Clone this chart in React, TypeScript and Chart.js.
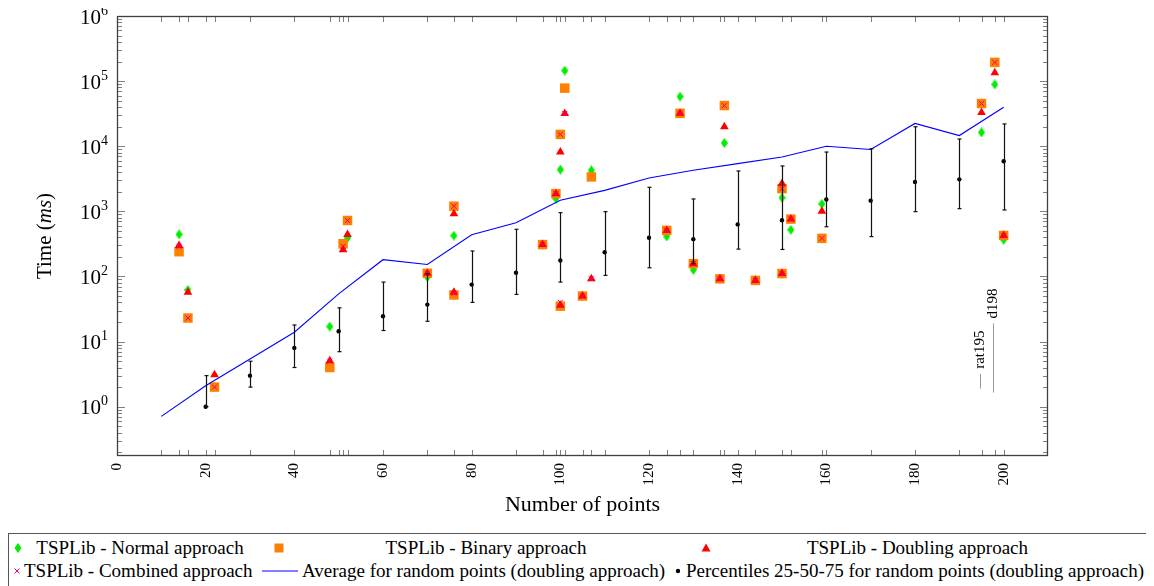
import React, { useEffect, useRef } from 'react';
import { Chart, registerables } from 'chart.js';
Chart.register(...registerables);

// ---- TSPLib instances (number of points) and times in ms ----
const tspSizes = [14, 16, 22, 48, 51, 52, 70, 76, 76, 96, 99, 100, 100, 101, 105, 107, 124, 127, 130, 136, 137, 144, 150, 150, 152, 159, 195, 198, 200];
const normalMs = [443, 62, 2, 17, 300, 390, 98, 423, 52, 309, 1570, 4380, 35, 145000, 50, 4270, 412, 57900, 126, 92, 11200, 87, 111, 1620, 520, 1300, 16300, 89000, 367];
const binaryMs = [240, 23, 2, 4, 318, 724, 112, 1200, 52, 309, 1870, 15200, 35, 78000, 50, 3380, 510, 32000, 157, 92, 42200, 87, 111, 2230, 760, 385, 45300, 194000, 427];
const doublingMs = [300, 57, 3.1, 5.1, 257, 443, 112, 920, 57, 309, 1870, 8150, 36, 31800, 50, 92, 510, 32000, 157, 92, 19900, 87, 111, 2680, 760, 1000, 33000, 134000, 427];
const combinedMs = [290, 23, 2, 5, 290, 724, 112, 1200, 55, 309, 1870, 15200, 40, 31800, 50, 92, 510, 32000, 157, 92, 42200, 87, 111, 2230, 760, 385, 45300, 194000, 427];

// ---- random points (doubling approach) ----
const randomSizes = [10, 20, 30, 40, 50, 60, 70, 80, 90, 100, 110, 120, 130, 140, 150, 160, 170, 180, 190, 200];
const averageMs = [0.71, 2.1, 5.4, 13.9, 54, 181, 153, 438, 670, 1480, 2100, 3250, 4270, 5400, 6840, 10000, 8900, 22400, 14600, 39800];
const p25Ms = [null, 1, 2, 4, 7, 14.8, 20.5, 40, 53, 82, 104, 136, 157, 263, 260, 580, 410, 990, 1100, 1050];
const p50Ms = [null, 1, 3, 8, 14.4, 24.5, 37, 75, 114, 176, 236, 394, 374, 630, 730, 1520, 1460, 2820, 3100, 5880];
const p75Ms = [null, 3, 5, 18, 33, 82, 110, 246, 530, 955, 990, 2340, 1550, 4170, 4980, 8150, 9150, 19900, 12900, 22000];

// ---- axes ----
const xTickLabels = [0, 20, 40, 60, 80, 100, 120, 140, 160, 180, 200];
const yDecades = [0, 1, 2, 3, 4, 5, 6];
const X_MIN = 0, X_MAX = 210, Y_MIN = 0.175, Y_MAX = 1e6;

// ---- annotations ----
const noteLabels = ['rat195', 'd198'];
const noteX = [195, 198];
const noteFrom = [1.9, 1.65];
const noteTo = [3.2, 19];

const SERIF = '"Liberation Serif", "DejaVu Serif", serif';
const GREEN = '#00ee00', ORANGE = '#ff8000', RED = '#ff0000', PINK = '#ee0077', BLUE = '#0000ff';

function makeDiamond(): HTMLCanvasElement {
  const c = document.createElement('canvas');
  c.width = 7; c.height = 10;
  const g = c.getContext('2d')!;
  g.fillStyle = GREEN;
  g.beginPath();
  g.moveTo(3.5, 0); g.lineTo(7, 5); g.lineTo(3.5, 10); g.lineTo(0, 5); g.closePath();
  g.fill();
  return c;
}

const decorPlugin = {
  id: 'decor',
  afterDatasetsDraw(chart: any) {
    const { ctx, chartArea: a, scales } = chart;
    const x = scales.x, y = scales.y;
    const seg = (x1: number, y1: number, x2: number, y2: number) => {
      ctx.beginPath(); ctx.moveTo(x1, y1); ctx.lineTo(x2, y2); ctx.stroke();
    };
    ctx.save();
    // error bars
    ctx.strokeStyle = '#111';
    ctx.lineWidth = 1.2;
    randomSizes.forEach((s, i) => {
      const lo = p25Ms[i], hi = p75Ms[i];
      if (lo == null || hi == null) return;
      const px = Math.round(x.getPixelForValue(s)) + 0.5;
      const y1 = y.getPixelForValue(lo), y2 = y.getPixelForValue(hi);
      seg(px, y1, px, y2);
      seg(px - 2, y1, px + 2, y1);
      seg(px - 2, y2, px + 2, y2);
    });
    // x ticks (inward, top and bottom)
    ctx.strokeStyle = '#808080';
    ctx.lineWidth = 1;
    const xs = Array.from(new Set([...randomSizes, ...tspSizes, ...xTickLabels]));
    xs.forEach(v => {
      const px = Math.round(x.getPixelForValue(v)) + 0.5;
      if (px <= a.left + 1 || px >= a.right - 1) return;
      seg(px, a.bottom, px, a.bottom - 6);
      seg(px, a.top, px, a.top + 6);
    });
    // y ticks (log minor)
    for (let k = -1; k <= 6; k++) {
      for (let m = 1; m <= 9; m++) {
        const v = m * Math.pow(10, k);
        if (v < Y_MIN || v > Y_MAX * 1.0001) continue;
        const py = Math.round(y.getPixelForValue(v)) + 0.5;
        const len = m === 1 ? 8 : 5;
        seg(a.left, py, a.left + len, py);
        seg(a.right, py, a.right - len, py);
      }
    }
    // frame
    ctx.strokeStyle = '#404040';
    ctx.lineWidth = 1.3;
    ctx.strokeRect(a.left + 0.5, a.top + 0.5, a.right - a.left - 1, a.bottom - a.top - 1);
    // y tick labels 10^k
    ctx.fillStyle = '#000';
    ctx.textBaseline = 'middle';
    yDecades.forEach(k => {
      const py = y.getPixelForValue(Math.pow(10, k));
      ctx.textAlign = 'right';
      ctx.font = `14px ${SERIF}`;
      const ex = String(k);
      const ew = ctx.measureText(ex).width;
      ctx.fillText(ex, a.left - 9, py - 5);
      ctx.font = `21px ${SERIF}`;
      ctx.fillText('10', a.left - 9 - ew, py + 2);
    });
    // y title
    ctx.save();
    ctx.translate(a.left - 72, (a.top + a.bottom) / 2);
    ctx.rotate(-Math.PI / 2);
    ctx.textAlign = 'left';
    const parts: [string, string][] = [['Time (', `21px ${SERIF}`], ['ms', `italic 21px ${SERIF}`], [')', `21px ${SERIF}`]];
    let total = 0;
    parts.forEach(([t, f]) => { ctx.font = f; total += ctx.measureText(t).width; });
    let cx = -total / 2;
    parts.forEach(([t, f]) => { ctx.font = f; ctx.fillText(t, cx, 0); cx += ctx.measureText(t).width; });
    ctx.restore();
    // annotations
    noteLabels.forEach((lab, i) => {
      const px = Math.round(x.getPixelForValue(noteX[i])) - 1.5;
      const yb = y.getPixelForValue(noteFrom[i]);
      const yt = y.getPixelForValue(noteTo[i]);
      ctx.strokeStyle = '#9a9a9a';
      ctx.lineWidth = 1;
      seg(px, yb, px, yt);
      ctx.save();
      ctx.translate(px, yt - 5);
      ctx.rotate(-Math.PI / 2);
      ctx.font = `15px ${SERIF}`;
      ctx.fillStyle = '#000';
      ctx.textAlign = 'left';
      ctx.textBaseline = 'middle';
      ctx.fillText(lab, 0, 0);
      ctx.restore();
    });
    ctx.restore();
  },
};

function Marker({ kind, cx, cy }: { kind: string; cx: number; cy: number }) {
  const w = 40, h = 20;
  let body: any = null;
  const mx = w / 2, my = h / 2;
  if (kind === 'diamond') body = <polygon points={`${mx},${my - 5} ${mx + 3.5},${my} ${mx},${my + 5} ${mx - 3.5},${my}`} fill={GREEN} />;
  if (kind === 'square') body = <rect x={mx - 4.5} y={my - 4.5} width={9} height={9} fill={ORANGE} />;
  if (kind === 'triangle') body = <polygon points={`${mx},${my - 4.5} ${mx + 4.5},${my + 3.5} ${mx - 4.5},${my + 3.5}`} fill={RED} />;
  if (kind === 'cross') body = <g stroke={PINK} strokeWidth={1}><line x1={mx - 2.5} y1={my - 2.5} x2={mx + 2.5} y2={my + 2.5} /><line x1={mx - 2.5} y1={my + 2.5} x2={mx + 2.5} y2={my - 2.5} /></g>;
  if (kind === 'line') body = <line x1={2} y1={my} x2={38} y2={my} stroke={BLUE} strokeWidth={1.2} />;
  if (kind === 'dot') body = <circle cx={mx} cy={my} r={2.2} fill="#000" />;
  return (
    <svg width={w} height={h} style={{ position: 'absolute', left: cx - w / 2, top: cy - h / 2 }}>{body}</svg>
  );
}

function Label({ text, x, cy, center }: { text: string; x: number; cy: number; center?: boolean }) {
  return (
    <span style={{
      position: 'absolute', left: x, top: cy - 11, lineHeight: '22px', height: 22,
      fontFamily: SERIF, fontSize: 19, whiteSpace: 'nowrap', color: '#000',
      transform: center ? 'translateX(-50%)' : undefined,
    }}>{text}</span>
  );
}

export default function App() {
  const ref = useRef<HTMLCanvasElement>(null);
  useEffect(() => {
    document.documentElement.style.overflow = 'hidden';
    document.body.style.overflow = 'hidden';
    const diamond = makeDiamond();
    const pts = (xs: number[], ys: (number | null)[]) => xs.map((v, i) => ({ x: v, y: ys[i] }));
    const chart = new Chart(ref.current!, {
      type: 'scatter',
      data: {
        datasets: [
          { label: 'TSPLib - Normal approach', data: pts(tspSizes, normalMs), pointStyle: diamond as any, pointRadius: 5, backgroundColor: GREEN, borderWidth: 0, order: 6 },
          { label: 'TSPLib - Binary approach', data: pts(tspSizes, binaryMs), pointStyle: 'rect', pointRadius: 6.7, backgroundColor: ORANGE, borderWidth: 0, order: 5 },
          { label: 'TSPLib - Doubling approach', data: pts(tspSizes, doublingMs), pointStyle: 'triangle', pointRadius: 5, backgroundColor: RED, borderWidth: 0, order: 4 },
          { label: 'TSPLib - Combined approach', data: pts(tspSizes, combinedMs), pointStyle: 'crossRot', pointRadius: 3.6, borderColor: PINK, backgroundColor: PINK, borderWidth: 1, order: 3 },
          { label: 'Average for random points (doubling approach)', data: pts(randomSizes, averageMs), showLine: true, pointRadius: 0, borderColor: BLUE, borderWidth: 1.1, order: 2 },
          { label: 'Percentiles 25-50-75 for random points (doubling approach)', data: pts(randomSizes, p50Ms).filter(p => p.y != null), pointStyle: 'circle', pointRadius: 2.2, backgroundColor: '#000', borderWidth: 0, order: 1 },
        ] as any,
      },
      options: {
        animation: false,
        responsive: false,
        layout: { padding: { top: 8, right: 98, left: 0, bottom: 0 } },
        plugins: { legend: { display: false }, tooltip: { enabled: false } },
        scales: {
          x: {
            type: 'linear', min: X_MIN, max: X_MAX,
            afterBuildTicks: (s: any) => { s.ticks = xTickLabels.map(v => ({ value: v })); },
            afterFit: (s: any) => { s.height = 74; },
            grid: { display: false, drawTicks: false },
            border: { display: false },
            ticks: {
              autoSkip: false, minRotation: 90, maxRotation: 90, padding: 7, color: '#000',
              font: { family: SERIF, size: 15 },
              callback: (v: any) => String(v),
            },
            title: { display: true, text: 'Number of points', color: '#000', font: { family: SERIF, size: 22 }, padding: { top: 0, bottom: 12 } },
          },
          y: {
            type: 'logarithmic', min: Y_MIN, max: Y_MAX,
            afterFit: (s: any) => { s.width = 109; },
            ticks: { display: false },
            grid: { display: false },
            border: { display: false },
          },
        },
      } as any,
      plugins: [decorPlugin],
    });
    return () => chart.destroy();
  }, []);

  return (
    <div style={{ position: 'relative', width: 1146, height: 578, overflow: 'hidden' }}>
      <canvas ref={ref} width={1138} height={522} style={{ display: 'block', width: 1138, height: 522 }} />
      <div style={{
        position: 'absolute', left: 0, top: 525, width: 1146, height: 60, boxSizing: 'border-box',
        borderTop: '1px solid #555', borderLeft: '1px solid #555',
      }} />
      <Marker kind="diamond" cx={10} cy={540} />
      <Label text="TSPLib - Normal approach" x={132} cy={540} center />
      <Marker kind="square" cx={271} cy={540} />
      <Label text="TSPLib - Binary approach" x={478} cy={540} center />
      <Marker kind="triangle" cx={698} cy={540} />
      <Label text="TSPLib - Doubling approach" x={909.5} cy={540} center />
      <Marker kind="cross" cx={9} cy={563} />
      <Label text="TSPLib - Combined approach" x={16} cy={563} />
      <Marker kind="line" cx={272} cy={563} />
      <Label text="Average for random points (doubling approach)" x={294} cy={563} />
      <Marker kind="dot" cx={670} cy={563} />
      <Label text="Percentiles 25-50-75 for random points (doubling approach)" x={678} cy={563} />
    </div>
  );
}
